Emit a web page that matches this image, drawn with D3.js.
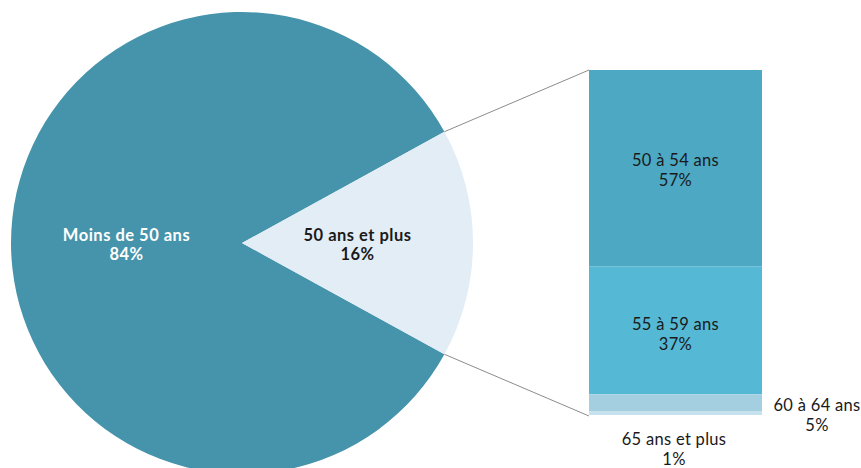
<!DOCTYPE html>
<html>
<head>
<meta charset="utf-8">
<script src="https://cdn.jsdelivr.net/npm/d3@7"></script>
<style>
  body { margin: 0; background: #fff; }
  svg { display: block; font-family: Lato, "Open Sans", sans-serif; }
</style>
</head>
<body>
<svg id="chart" width="861" height="468"></svg>
<script>
// Main split: under 50 vs 50 and over
const pieLabels = ["Moins de 50 ans", "50 ans et plus"];
const pieValues = [84, 16];
const pieColors = ["#4594AB", "#E2EDF6"];
const pieTextColors = ["#ffffff", "#1a1a1a"];

// Breakdown of the 50+ group
const barLabels = ["50 à 54 ans", "55 à 59 ans", "60 à 64 ans", "65 ans et plus"];
const barValues = [57, 37, 5, 1];
const barColors = ["#4DA9C3", "#55B8D4", "#A3CFE0", "#C6E2EE"];

const svg = d3.select("#chart");
const cx = 242, cy = 243, R = 231;
const fontSize = 16.5;

// Rotate so the small slice is centred on the right-hand side
const smallShare = pieValues[1] / d3.sum(pieValues);
const smallStart = Math.PI / 2 - smallShare * Math.PI;

const pie = d3.pie().sort(null).value(d => d)
  .startAngle(smallStart + smallShare * 2 * Math.PI)
  .endAngle(smallStart + 2 * Math.PI + smallShare * 2 * Math.PI);
const arcs = pie(pieValues);
const arc = d3.arc().innerRadius(0).outerRadius(R);

const g = svg.append("g").attr("transform", `translate(${cx},${cy})`);
g.selectAll("path").data(arcs).join("path")
  .attr("d", arc)
  .attr("fill", (d, i) => pieColors[i]);

g.selectAll("text.pl").data(arcs).join("text")
  .attr("class", "pl")
  .attr("text-anchor", "middle")
  .attr("font-size", fontSize)
  .attr("font-weight", 700)
  .attr("letter-spacing", 0.5)
  .attr("fill", (d, i) => pieTextColors[i])
  .each(function(d, i) {
    const [x, y] = arc.centroid(d);
    const t = d3.select(this);
    t.append("tspan").attr("x", x).attr("y", y - 2).text(pieLabels[i]);
    t.append("tspan").attr("x", x).attr("y", y + 17).text(pieValues[i] + "%");
  });

// Stacked bar
const barX = 589, barW = 173, barTop = 70, barBottom = 415;
const y = d3.scaleLinear().domain([0, d3.sum(barValues)]).range([barTop, barBottom]);
let acc = 0;
const segs = barValues.map((v, i) => {
  const s = { i, v, y0: acc, y1: acc + v };
  acc += v;
  return s;
});

svg.append("g").selectAll("rect").data(segs).join("rect")
  .attr("x", barX)
  .attr("width", barW)
  .attr("y", d => y(d.y0))
  .attr("height", d => y(d.y1) - y(d.y0))
  .attr("fill", d => barColors[d.i]);

// Connector lines from the small slice edges to the bar
const sliceArc = arcs[1];
const edge = a => [cx + R * Math.sin(a), cy - R * Math.cos(a)];
const pTop = edge(sliceArc.startAngle);
const pBot = edge(sliceArc.endAngle);
svg.append("line").attr("x1", pTop[0]).attr("y1", pTop[1]).attr("x2", barX).attr("y2", y(0))
  .attr("stroke", "#8c8c8c").attr("stroke-width", 1);
svg.append("line").attr("x1", pBot[0]).attr("y1", pBot[1]).attr("x2", barX).attr("y2", y(d3.sum(barValues)) + 1)
  .attr("stroke", "#8c8c8c").attr("stroke-width", 1);

// Bar labels
const labelPos = [
  { x: barX + barW / 2, y: (s) => (y(s.y0) + y(s.y1)) / 2 - 2 },
  { x: barX + barW / 2, y: (s) => (y(s.y0) + y(s.y1)) / 2 },
  { x: 817, y: () => 411 },
  { x: 674, y: () => 445 }
];
svg.append("g").selectAll("text").data(segs).join("text")
  .attr("text-anchor", "middle")
  .attr("font-size", fontSize)
  .attr("letter-spacing", 0.3)
  .attr("fill", "#1a1a1a")
  .each(function(d) {
    const p = labelPos[d.i];
    const yy = p.y(d);
    const t = d3.select(this);
    t.append("tspan").attr("x", p.x).attr("y", yy).text(barLabels[d.i]);
    t.append("tspan").attr("x", p.x).attr("y", yy + 19.5).text(d.v + "%");
  });
</script>
</body>
</html>
